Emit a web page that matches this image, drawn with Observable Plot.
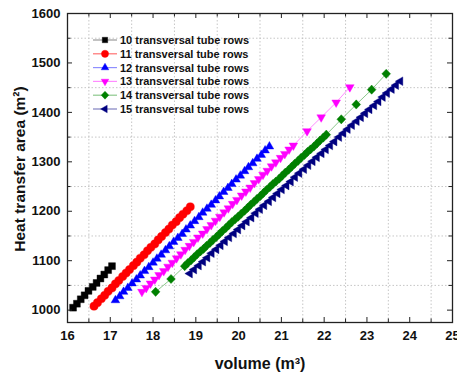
<!DOCTYPE html>
<html>
<head>
<meta charset="utf-8">
<script src="https://cdn.jsdelivr.net/npm/d3@7"></script>
<script src="https://cdn.jsdelivr.net/npm/@observablehq/plot@0.6"></script>
<style>
  html, body { margin: 0; padding: 0; background: #fff; }
  #chart svg { display: block; }
</style>
</head>
<body>
<div id="chart"></div>
<script>
// ---------- data ----------
const xTicks = [16, 17, 18, 19, 20, 21, 22, 23, 24, 25];
const yTicks = [1000, 1100, 1200, 1300, 1400, 1500, 1600];
const xMinor = [16.5, 17.5, 18.5, 19.5, 20.5, 21.5, 22.5, 23.5, 24.5];
const yMinor = [1050, 1150, 1250, 1350, 1450, 1550];

const seriesNames = [
  "10 transversal tube rows", "11 transversal tube rows", "12 transversal tube rows",
  "13 transversal tube rows", "14 transversal tube rows", "15 transversal tube rows"
];

const s10x = [16.13, 16.22, 16.31, 16.40, 16.49, 16.59, 16.68, 16.77, 16.86, 16.95, 17.04];
const s10y = [1005, 1013, 1022, 1030, 1039, 1047, 1055, 1064, 1072, 1081, 1089];

const s11x = [16.62, 16.70, 16.79, 16.87, 16.95, 17.04, 17.12, 17.20, 17.29, 17.37, 17.45, 17.54, 17.62, 17.70,
              17.79, 17.87, 17.95, 18.04, 18.12, 18.20, 18.29, 18.37, 18.45, 18.54, 18.62, 18.70, 18.79, 18.87];
const s11y = [1008, 1015, 1023, 1030, 1038, 1045, 1053, 1060, 1068, 1075, 1082, 1090, 1097, 1105,
              1112, 1120, 1127, 1134, 1142, 1149, 1157, 1164, 1172, 1179, 1187, 1194, 1201, 1209];

const s12x = [17.12, 17.22, 17.31, 17.41, 17.51, 17.61, 17.70, 17.80, 17.90, 18.00, 18.09, 18.19, 18.29, 18.38,
              18.48, 18.58, 18.68, 18.77, 18.87, 18.97, 19.07, 19.16, 19.26, 19.36, 19.46, 19.55, 19.65, 19.75,
              19.84, 19.94, 20.04, 20.14, 20.23, 20.33, 20.43, 20.53, 20.62, 20.72];
const s12y = [1020, 1028, 1037, 1045, 1054, 1062, 1070, 1079, 1087, 1096, 1104, 1112, 1121, 1129,
              1138, 1146, 1154, 1163, 1171, 1180, 1188, 1197, 1205, 1213, 1222, 1230, 1239, 1247,
              1255, 1264, 1272, 1281, 1289, 1297, 1306, 1314, 1323, 1331];

const s13x = [17.74, 17.84, 17.94, 18.04, 18.14, 18.25, 18.35, 18.45, 18.55, 18.65, 18.75, 18.85, 18.95, 19.05,
              19.16, 19.26, 19.36, 19.46, 19.56, 19.66, 19.76, 19.86, 19.96, 20.07, 20.17, 20.27, 20.37, 20.47,
              20.57, 20.67, 20.77, 20.87, 20.98, 21.08, 21.18, 21.28, 21.60, 21.93, 22.28, 22.60];
const s13y = [1037, 1045, 1054, 1062, 1071, 1079, 1088, 1096, 1105, 1113, 1122, 1130, 1138, 1147,
              1155, 1164, 1172, 1181, 1189, 1198, 1206, 1215, 1223, 1232, 1240, 1248, 1257, 1265,
              1274, 1282, 1291, 1299, 1308, 1316, 1325, 1333, 1362, 1390, 1420, 1451];

const s14x = [18.06, 18.42, 18.74, 18.81, 18.89, 18.96, 19.03, 19.11, 19.18, 19.25, 19.33, 19.40, 19.48, 19.55,
              19.62, 19.70, 19.77, 19.84, 19.92, 19.99, 20.06, 20.14, 20.21, 20.28, 20.36, 20.43, 20.51, 20.58,
              20.65, 20.73, 20.80, 20.87, 20.95, 21.02, 21.09, 21.17, 21.24, 21.31, 21.39, 21.46, 21.54, 21.61,
              21.68, 21.76, 21.83, 21.90, 21.98, 22.05, 22.40, 22.75, 23.11, 23.45];
const s14y = [1037, 1063, 1089, 1095, 1101, 1107, 1113, 1119, 1124, 1130, 1136, 1142, 1148, 1154,
              1160, 1166, 1172, 1178, 1184, 1189, 1195, 1201, 1207, 1213, 1219, 1225, 1231, 1237,
              1243, 1249, 1255, 1260, 1266, 1272, 1278, 1284, 1290, 1296, 1302, 1308, 1314, 1320,
              1325, 1331, 1337, 1343, 1349, 1355, 1386, 1416, 1446, 1478];

const s15x = [18.86, 18.96, 19.07, 19.17, 19.27, 19.37, 19.48, 19.58, 19.68, 19.78, 19.89, 19.99, 20.09, 20.19,
              20.30, 20.40, 20.50, 20.60, 20.71, 20.81, 20.91, 21.01, 21.12, 21.22, 21.32, 21.42, 21.53, 21.63,
              21.73, 21.83, 21.94, 22.04, 22.14, 22.24, 22.35, 22.45, 22.55, 22.65, 22.76, 22.86, 22.96, 23.06,
              23.17, 23.27, 23.37, 23.47, 23.58, 23.68, 23.78];
const s15y = [1074, 1082, 1090, 1098, 1106, 1115, 1123, 1131, 1139, 1147, 1155, 1163, 1171, 1179,
              1187, 1196, 1204, 1212, 1220, 1228, 1236, 1244, 1252, 1260, 1269, 1277, 1285, 1293,
              1301, 1309, 1317, 1325, 1333, 1341, 1350, 1358, 1366, 1374, 1382, 1390, 1398, 1406,
              1414, 1422, 1431, 1439, 1447, 1455, 1463];

// ---------- styles ----------
const markColors = ["#000000", "#ff0000", "#0000ff", "#ff00ff", "#008000", "#000080"];
const lineColors = ["#999999", "#ff7070", "#8f8fff", "#ff8cff", "#8cc88c", "#8080c0"];

function poly(pts) {
  return {
    draw(ctx, size) {
      const R = Math.sqrt(size / Math.PI);
      ctx.moveTo(pts[0][0] * R, pts[0][1] * R);
      for (let i = 1; i < pts.length; i++) ctx.lineTo(pts[i][0] * R, pts[i][1] * R);
      ctx.closePath();
    }
  };
}
const c30 = Math.cos(Math.PI / 6);
const symSquare = poly([[-0.8, -0.8], [0.8, -0.8], [0.8, 0.8], [-0.8, 0.8]]);
const symCircle = { draw(ctx, size) { const R = Math.sqrt(size / Math.PI); ctx.moveTo(R, 0); ctx.arc(0, 0, R, 0, 2 * Math.PI); } };
const symUp = poly([[0, -1], [c30, 0.5], [-c30, 0.5]]);
const symDown = poly([[0, 1], [c30, -0.5], [-c30, -0.5]]);
const symDiamond = poly([[0, -1], [0.95, 0], [0, 1], [-0.95, 0]]);
const symLeft = poly([[-1, 0], [0.5, -c30], [0.5, c30]]);
const symbols = [symSquare, symCircle, symUp, symDown, symDiamond, symLeft];
const radii = [4.3, 4.1, 5.0, 5.0, 4.6, 5.0];
const legendR = [3.4, 3.6, 4.4, 4.4, 4.0, 4.4];

const allX = [s10x, s11x, s12x, s13x, s14x, s15x];
const allY = [s10y, s11y, s12y, s13y, s14y, s15y];
const tables = allX.map((xs, i) => xs.map((x, j) => ({ x, y: allY[i][j] })));

// ---------- layout ----------
const W = 457, H = 374;
const mL = 67, mR = 5, mT = 13, mB = 52;
const pw = W - mL - mR, ph = H - mT - mB;
const font = "'Liberation Sans', Arial, Helvetica, sans-serif";

const marks = [
  Plot.gridX(xMinor, { stroke: "#b8b8b8", strokeOpacity: 1, strokeWidth: 0.8, strokeDasharray: "1.5,2" }),
  Plot.gridY(yMinor, { stroke: "#b8b8b8", strokeOpacity: 1, strokeWidth: 0.8, strokeDasharray: "1.5,2" })
];
tables.forEach((t, i) => {
  marks.push(Plot.line(t, { x: "x", y: "y", stroke: lineColors[i], strokeWidth: 1 }));
});
tables.forEach((t, i) => {
  marks.push(Plot.dot(t, { x: "x", y: "y", symbol: symbols[i], r: radii[i], fill: markColors[i], stroke: markColors[i], strokeWidth: 0.4 }));
});
const tk = { stroke: "#222", strokeWidth: 1 };
marks.push(
  Plot.tickX(xTicks, { x: d => d, insetTop: ph - 5, ...tk }),
  Plot.tickX(xTicks, { x: d => d, insetBottom: ph - 5, ...tk }),
  Plot.tickX(xMinor, { x: d => d, insetTop: ph - 3.5, ...tk }),
  Plot.tickX(xMinor, { x: d => d, insetBottom: ph - 3.5, ...tk }),
  Plot.tickY(yTicks, { y: d => d, insetRight: pw - 5, ...tk }),
  Plot.tickY(yTicks, { y: d => d, insetLeft: pw - 5, ...tk }),
  Plot.tickY(yMinor, { y: d => d, insetRight: pw - 3.5, ...tk }),
  Plot.tickY(yMinor, { y: d => d, insetLeft: pw - 3.5, ...tk }),
  Plot.frame({ stroke: "#222", strokeWidth: 1.3 }),
  Plot.axisX({ ticks: xTicks, tickSize: 0, tickPadding: 8, tickFormat: d => String(d), label: null, fontSize: 13, fontWeight: "bold", fill: "#111" }),
  Plot.axisY({ ticks: yTicks, tickSize: 0, tickPadding: 7, tickFormat: d => String(d), label: null, fontSize: 13, fontWeight: "bold", fill: "#111" }),
  Plot.text(["volume (m³)"], { frameAnchor: "bottom", dy: 41, lineAnchor: "middle", textAnchor: "middle", fontSize: 16, fontWeight: "bold", fill: "#111" }),
  Plot.text(["Heat transfer area (m²)"], { frameAnchor: "left", dx: -47, dy: 1, rotate: -90, textAnchor: "middle", lineAnchor: "middle", fontSize: 15.5, fontWeight: "bold", fill: "#111" })
);

const chart = Plot.plot({
  width: W, height: H,
  marginLeft: mL, marginRight: mR, marginTop: mT, marginBottom: mB,
  style: { fontFamily: font, fontWeight: "bold", background: "#fff", overflow: "visible" },
  x: { domain: [16, 25] },
  y: { domain: [975, 1600] },
  marks
});
document.getElementById("chart").appendChild(chart);

// ---------- legend ----------
const svg = d3.select(chart);
const lg = svg.append("g").attr("font-family", font).attr("font-weight", "bold")
  .attr("font-size", 11).attr("text-anchor", "start");
seriesNames.forEach((name, i) => {
  const yy = 40 + i * 13.8;
  lg.append("line").attr("x1", 93).attr("x2", 117).attr("y1", yy).attr("y2", yy)
    .attr("stroke", lineColors[i]).attr("stroke-width", 1.2);
  const r = legendR[i];
  lg.append("path").attr("transform", `translate(105,${yy})`)
    .attr("d", d3.symbol(symbols[i], Math.PI * r * r)())
    .attr("fill", markColors[i]).attr("stroke", markColors[i]).attr("stroke-width", 0.4);
  lg.append("text").attr("x", 120).attr("y", yy).attr("dy", "0.36em")
    .attr("text-anchor", "start").attr("fill", "#111").text(name);
});
</script>
</body>
</html>
